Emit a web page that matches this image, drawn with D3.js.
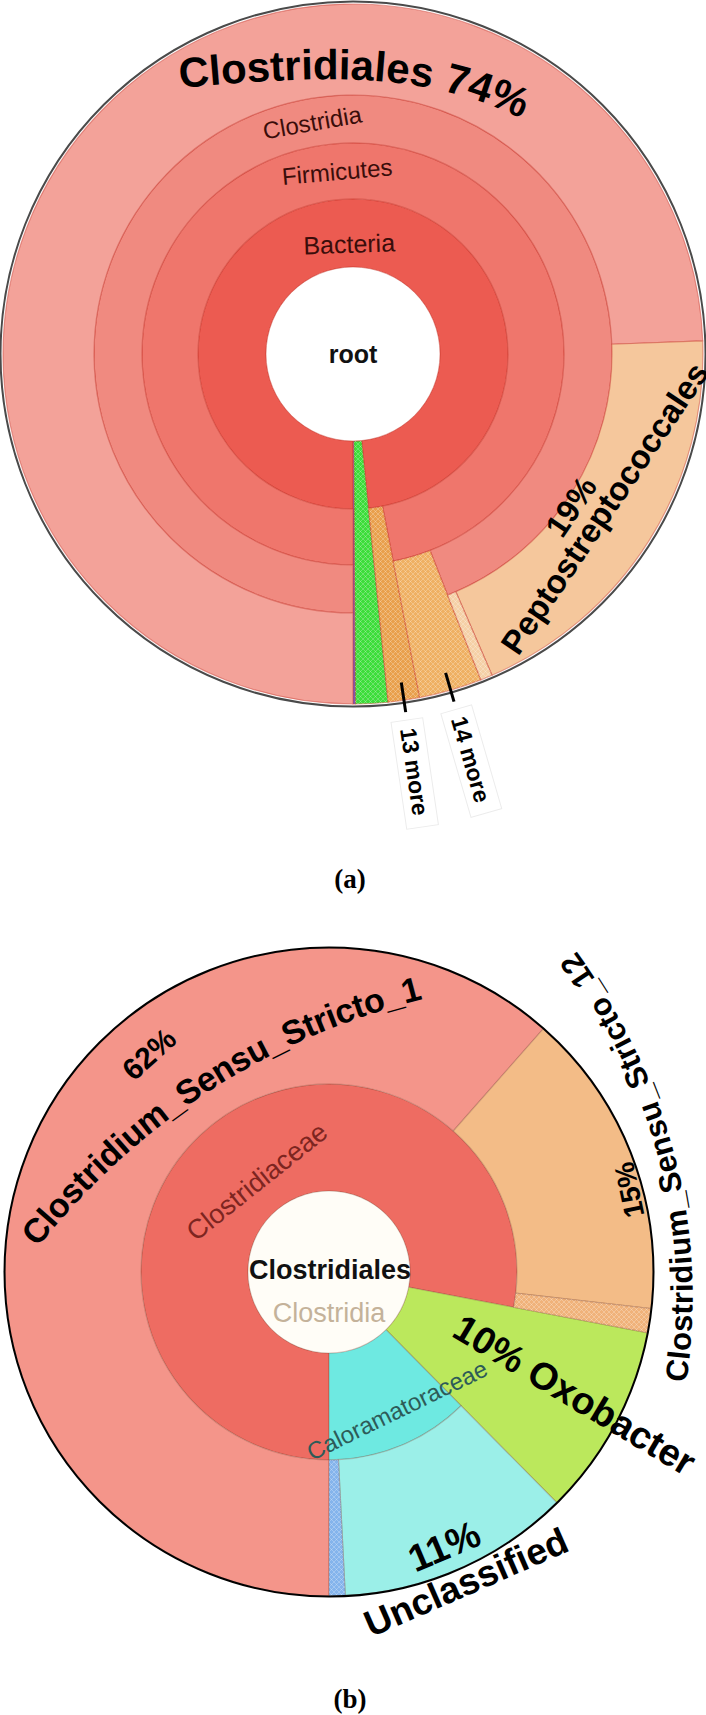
<html>
<head>
<script src="https://cdnjs.cloudflare.com/ajax/libs/d3/7.8.5/d3.min.js"></script>
  <meta charset="utf-8">
  <title>Krona charts</title>
  <style>
    body { margin: 0; background: #fff; }
    text { font-family: "Liberation Sans", Arial, sans-serif; }
  </style>
</head>
<body>
<script type="text/javascript">

  var w = 706;
  var h = 1715;

  // chart (a): taxonomy tree, values in % of reads
  var namesA   = ["root", "Bacteria", "Firmicutes", "Clostridia", "Clostridiales", "Peptostreptococcales", "other Clostridia", "14 more", "13 more", "other", "unassigned"];
  var parentsA = ["", "root", "Bacteria", "Firmicutes", "Clostridia", "Clostridia", "Clostridia", "Firmicutes", "Bacteria", "root", "root"];
  var valuesA  = [0, 0, 0, 0, 74.4, 19.1, 0.55, 2.9, 1.45, 1.5, 0.1];
  var colorsA  = ["#ffffff", "#ec5b51", "#ef766c", "#f08a80", "#f3a299", "#f5c79c", "#f5d0a6", "#efb062", "#e9a04c", "#3ddd3a", "#6f5fd8"];
  var hatchedA = ["14 more", "13 more", "other Clostridia", "other"];

  // chart (b): Clostridiales subtree
  var namesB   = ["Clostridiales", "Clostridiaceae", "Clostridium_Sensu_Stricto_1", "Clostridium_Sensu_Stricto_12", "other Clostridiaceae", "Oxobacter", "Caloramatoraceae", "Unclassified", "other Caloramatoraceae"];
  var parentsB = ["", "Clostridiales", "Clostridiaceae", "Clostridiaceae", "Clostridiaceae", "Clostridiales", "Clostridiales", "Caloramatoraceae", "Caloramatoraceae"];
  var valuesB  = [0, 0, 61.5, 15.3, 1.2, 9.6, 0, 11.6, 0.8];
  var colorsB  = ["#fffdf7", "#ee6c62", "#f4958a", "#f3bc87", "#f0b27a", "#bbe85c", "#6ee9e1", "#9befe8", "#84b4ec"];
  var hatchedB = ["other Clostridiaceae", "other Caloramatoraceae"];

  var svg = d3.select("body")
              .append("svg")
              .attr("width", w)
              .attr("height", h);

  var defs = svg.append("defs");
  var pat = defs.append("pattern")
      .attr("id", "hatch")
      .attr("patternUnits", "userSpaceOnUse")
      .attr("width", 5)
      .attr("height", 5);
  pat.append("path")
      .attr("d", "M0,5 L5,0 M0,0 L5,5")
      .attr("stroke", "#fff")
      .attr("stroke-opacity", 0.35)
      .attr("stroke-width", 0.7);

  function buildTree(names, parents, values) {
    var table = names.map(function(n, i) {
      return { name: n, parent: parents[i] === "" ? null : parents[i], value: values[i] };
    });
    var root = d3.stratify()
        .id(function(d) { return d.name; })
        .parentId(function(d) { return d.parent; })(table);
    root.sum(function(d) { return d.value; });
    d3.partition().size([2 * Math.PI, 1])(root);
    return root;
  }

  // draws one sunburst, returns helpers for the labels
  function sunburst(cfg) {
    var root = buildTree(cfg.names, cfg.parents, cfg.values);
    var outer = cfg.radii[cfg.radii.length - 1];
    var angle = d3.scaleLinear().domain([0, 2 * Math.PI]).range([Math.PI, 3 * Math.PI]);
    var color = d3.scaleOrdinal().domain(cfg.names).range(cfg.colors);

    var g = svg.append("g")
        .attr("transform", "translate(" + cfg.cx + "," + cfg.cy + ")");

    var arc = d3.arc()
        .startAngle(function(d) { return angle(d.x0); })
        .endAngle(function(d) { return angle(d.x1); })
        .innerRadius(function(d) { return cfg.radii[d.depth]; })
        .outerRadius(function(d) { return d.children ? cfg.radii[d.depth + 1] : outer; });

    var nodes = root.descendants().filter(function(d) { return d.depth > 0; });

    g.selectAll("path.seg")
        .data(nodes)
        .enter()
        .append("path")
        .attr("class", "seg")
        .attr("d", arc)
        .attr("fill", function(d) { return color(d.id); })
        .attr("stroke", cfg.stroke)
        .attr("stroke-width", 1.2);

    g.selectAll("path.hatch")
        .data(nodes.filter(function(d) { return cfg.hatched.indexOf(d.id) >= 0; }))
        .enter()
        .append("path")
        .attr("class", "hatch")
        .attr("d", arc)
        .attr("fill", "url(#hatch)");

    g.append("circle")
        .attr("r", cfg.radii[1])
        .attr("fill", color(root.id))
        .attr("stroke", cfg.stroke)
        .attr("stroke-width", 1);

    g.append("circle")
        .attr("r", outer + cfg.borderGap)
        .attr("fill", "none")
        .attr("stroke", cfg.border)
        .attr("stroke-width", 2);

    return {
      g: g,
      root: root,
      outer: outer,
      mid: function(id) {
        var n = root.descendants().filter(function(d) { return d.id === id; })[0];
        return angle((n.x0 + n.x1) / 2) * 180 / Math.PI;
      }
    };
  }

  function pt(phi, r) {
    var a = phi * Math.PI / 180;
    return [r * Math.sin(a), -r * Math.cos(a)];
  }

  function label(g, txt, p, rot, size, weight, fill, anchor) {
    return g.append("text")
        .attr("transform", "translate(" + p[0] + "," + p[1] + ") rotate(" + rot + ")")
        .attr("text-anchor", anchor || "middle")
        .attr("dy", "0.35em")
        .attr("font-size", size + "px")
        .attr("font-weight", weight)
        .attr("fill", fill)
        .text(txt);
  }

  function pathLabel(g, id, txt, d, size, dy, offset, anchor) {
    g.append("path").attr("id", id).attr("d", d).attr("fill", "none");
    g.append("text")
        .attr("font-size", size + "px")
        .attr("font-weight", "bold")
        .attr("fill", "#000")
        .attr("dy", dy)
        .append("textPath")
        .attr("href", "#" + id)
        .attr("startOffset", offset)
        .attr("text-anchor", anchor)
        .text(txt);
  }

  // ---------- chart (a) ----------
  var A = sunburst({
    names: namesA, parents: parentsA, values: valuesA, colors: colorsA, hatched: hatchedA,
    cx: 353, cy: 354, radii: [0, 87, 155, 211, 259, 350],
    stroke: "rgba(200,55,45,0.45)", border: "#4a4a4a", borderGap: 2.5
  });

  label(A.g, "root", [0, 0], 0, 25, "bold", "#111");
  label(A.g, "Bacteria", pt(-2, 110), -2, 25, "normal", "#3a0d0a");
  label(A.g, "Firmicutes", pt(-5, 183), -5, 24, "normal", "#3a0d0a");
  label(A.g, "Clostridia", pt(-10, 235), -10, 24, "normal", "#3a0d0a");

  pathLabel(A.g, "lblA1", "Clostridiales 74%",
      "M-173,-266 C-20,-280 95,-286 205,-214", 42, 0, 0, "start");

  label(A.g, "19%", pt(125, 266), -56, 32, "bold", "#000");
  label(A.g, "Peptostreptococcales", pt(121.5, 295), -56, 33, "bold", "#000");

  ["13 more", "14 more"].forEach(function(id) {
    var phi = A.mid(id);
    var a = pt(phi, 332), b = pt(phi, 362), s = pt(phi, 370);
    A.g.append("line")
        .attr("x1", a[0]).attr("y1", a[1])
        .attr("x2", b[0]).attr("y2", b[1])
        .attr("stroke", "#000")
        .attr("stroke-width", 3);
    var lg = A.g.append("g")
        .attr("transform", "translate(" + s[0] + "," + s[1] + ") rotate(" + (phi - 90) + ")");
    lg.append("rect")
        .attr("x", 0).attr("y", -16)
        .attr("width", 108).attr("height", 32)
        .attr("fill", "#fff")
        .attr("stroke", "#ececec");
    label(lg, id, [8, 0], 0, 23, "bold", "#000", "start");
  });

  svg.append("text")
      .attr("x", 350).attr("y", 888)
      .attr("text-anchor", "middle")
      .attr("font-size", "27px")
      .attr("font-weight", "bold")
      .style("font-family", "'Liberation Serif', serif")
      .text("(a)");

  // ---------- chart (b) ----------
  var B = sunburst({
    names: namesB, parents: parentsB, values: valuesB, colors: colorsB, hatched: hatchedB,
    cx: 329, cy: 1272, radii: [0, 81, 188, 324],
    stroke: "rgba(120,60,40,0.25)", border: "#000", borderGap: 0.5
  });

  label(B.g, "Clostridiales", [1, -2], 0, 27, "bold", "#111");
  label(B.g, "Clostridia", [0, 41], 0, 27, "normal", "#c4b29a");
  label(B.g, "Clostridiaceae", pt(321.4, 116), -38.6, 27, "normal", "#7d2520");
  label(B.g, "Caloramatoraceae", pt(153.8, 154), -26, 24, "normal", "#2d5b58");

  label(B.g, "62%", [-180, -218], -42, 30, "bold", "#000");
  pathLabel(B.g, "lblB1", "Clostridium_Sensu_Stricto_1",
      "M-307,-24 Q-147,-228 101,-287", 34, "0.35em", "50%", "middle");

  label(B.g, "15%", [300, -82], -102, 28, "bold", "#000");
  pathLabel(B.g, "lblB2", "Clostridium_Sensu_Stricto_12",
      "M346,113 Q381,-118 236,-318", 31, "0.35em", "50%", "middle");

  label(B.g, "10% Oxobacter", [128, 52], 31, 38, "bold", "#000", "start");
  label(B.g, "11%", [115, 274], -23, 38, "bold", "#000");
  label(B.g, "Unclassified", [137, 310], -23.6, 37, "bold", "#000");

  svg.append("text")
      .attr("x", 350).attr("y", 1708)
      .attr("text-anchor", "middle")
      .attr("font-size", "27px")
      .attr("font-weight", "bold")
      .style("font-family", "'Liberation Serif', serif")
      .text("(b)");

</script>
</body>
</html>
